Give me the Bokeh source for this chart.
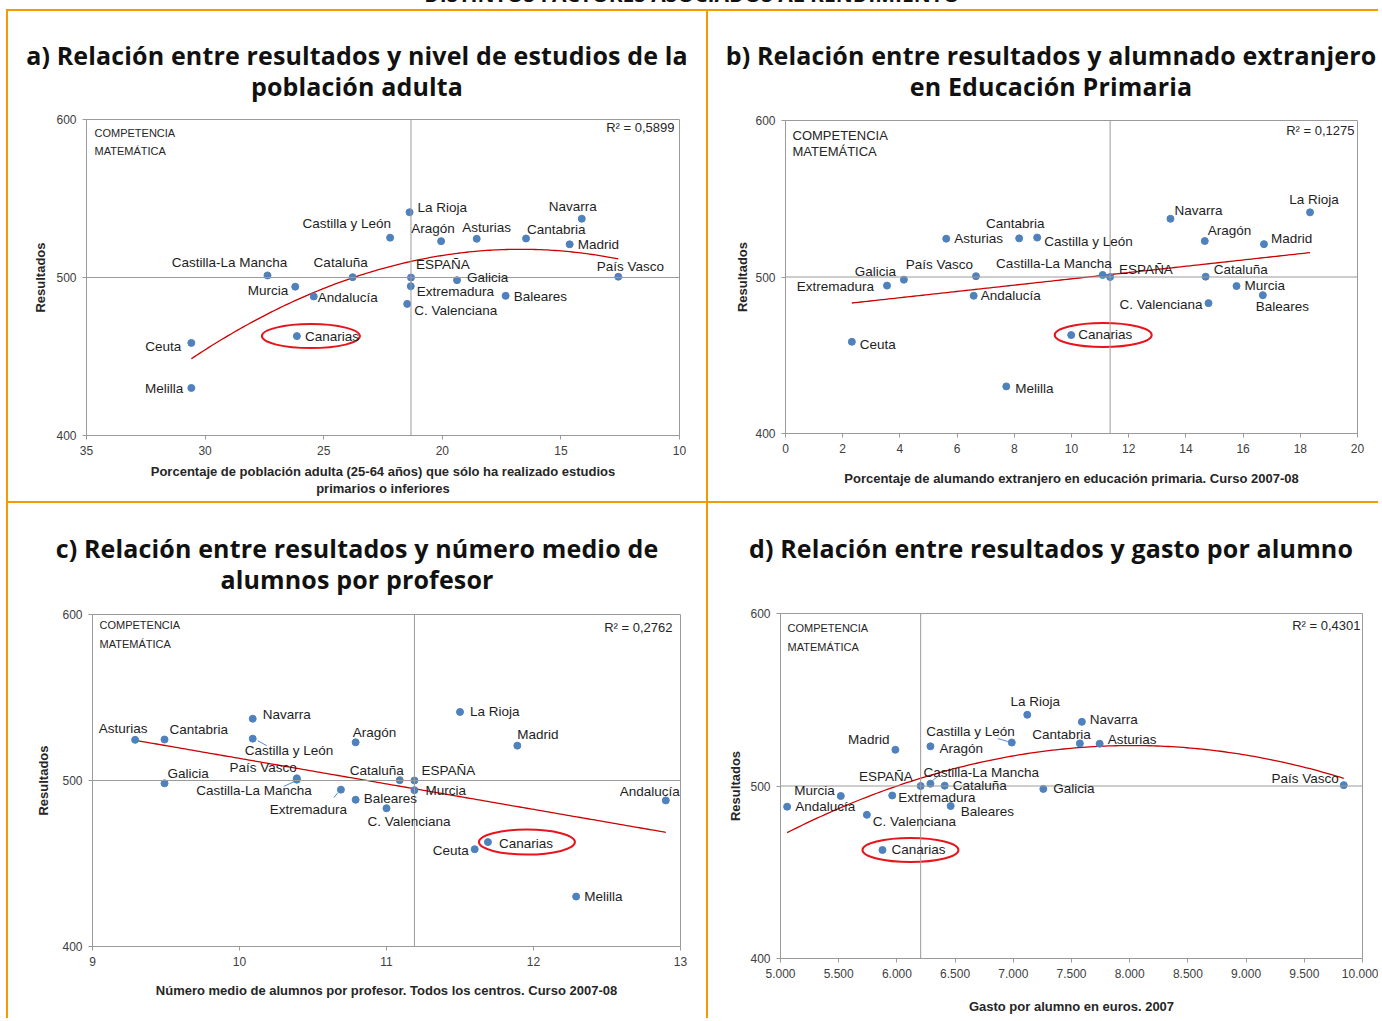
import numpy as np
from bokeh.plotting import figure
from bokeh.models import Range1d, FixedTicker, Span, Label, Div
from bokeh.layouts import row, column
from bokeh.embed import file_html
from bokeh.resources import INLINE

# ---------------- data ----------------
regions = ["Andalucía", "Aragón", "Asturias", "Baleares", "Canarias", "Cantabria",
           "Castilla y León", "Castilla-La Mancha", "Cataluña", "C. Valenciana",
           "Extremadura", "Galicia", "Madrid", "Murcia", "Navarra", "País Vasco",
           "La Rioja", "Ceuta", "Melilla", "ESPAÑA"]
# competencia matemática (same in every panel)
score = [488.0, 523.0, 524.5, 488.4, 462.9, 524.7, 525.2, 501.3, 500.2, 483.3,
         494.5, 498.3, 521.0, 494.2, 537.2, 500.5, 541.3, 458.6, 430.1, 500.0]
# a) % adult population with only primary studies
x_a = [25.42, 20.05, 18.55, 17.33, 26.13, 16.47, 22.2, 27.37, 23.78, 21.48,
       21.33, 19.38, 14.63, 26.2, 14.12, 12.58, 21.38, 30.58, 30.58, 21.32]
# b) % foreign pupils in primary education
x_b = [6.58, 14.66, 5.62, 16.69, 9.99, 8.17, 8.8, 11.09, 14.69, 14.79,
       3.55, 4.14, 16.73, 15.77, 13.46, 6.66, 18.34, 2.32, 7.72, 11.35]
# c) pupils per teacher
x_c = [12.9, 10.79, 9.29, 10.79, 11.69, 9.49, 10.09, 10.39, 11.09, 11.0,
       10.69, 9.49, 11.89, 11.19, 10.09, 10.39, 11.5, 11.6, 12.29, 11.19]
# d) spending per pupil (euros)
x_d = [5057, 6288, 7742, 6462, 5876, 7572, 6987, 6288, 6411, 5742,
       5960, 7258, 5987, 5518, 7589, 9839, 7120, None, None, 6204]

ticks_a = [35, 30, 25, 20, 15, 10]
tick_labels_a = ["35", "30", "25", "20", "15", "10"]
ticks_b = [0, 2, 4, 6, 8, 10, 12, 14, 16, 18, 20]
tick_labels_b = ["0", "2", "4", "6", "8", "10", "12", "14", "16", "18", "20"]
ticks_c = [9, 10, 11, 12, 13]
tick_labels_c = ["9", "10", "11", "12", "13"]
ticks_d = [5000, 5500, 6000, 6500, 7000, 7500, 8000, 8500, 9000, 9500, 10000]
tick_labels_d = ["5.000", "5.500", "6.000", "6.500", "7.000", "7.500", "8.000",
                 "8.500", "9.000", "9.500", "10.000"]
y_ticks = [400, 500, 600]
r2_texts = ["R² = 0,5899", "R² = 0,1275", "R² = 0,2762", "R² = 0,4301"]

main_title = "DISTINTOS FACTORES ASOCIADOS AL RENDIMIENTO"
titles = ["a) Relación entre resultados y nivel de estudios de la<br>población adulta",
          "b) Relación entre resultados y alumnado extranjero<br>en Educación Primaria",
          "c) Relación entre resultados y número medio de<br>alumnos por profesor",
          "d) Relación entre resultados y gasto por alumno"]
xlabels = ["Porcentaje de población adulta (25-64 años) que sólo ha realizado estudios\nprimarios o inferiores",
           "Porcentaje de alumando extranjero en educación primaria. Curso 2007-08",
           "Número medio de alumnos por profesor. Todos los centros. Curso 2007-08",
           "Gasto por alumno en euros. 2007"]

# ---------------- label placement (pixels, y down) ----------------
lab_a = [("left", 4, 1), ("center", -8, -13), ("center", 10, -11), ("left", 8, 1), ("left", 8, 0),
         ("left", 1, -9), ("right", 1, -14), ("center", -38, -13), ("center", -12, -15), ("left", 7, 7),
         ("left", 6, 5), ("left", 10, -3), ("left", 8, 0), ("right", -7, 4), ("center", -9, -12),
         ("center", 12, -10), ("left", 8, -5), ("right", -10, 4), ("right", -8, 1), ("left", 5, -13)]
lab_b = [("left", 7, 0), ("left", 3, -11), ("left", 8, 0), ("left", -7, 11), ("left", 7, -1),
         ("center", -4, -15), ("left", 7, 4), ("right", 9, -11), ("left", 8, -7), ("right", -6, 1),
         ("right", -13, 1), ("right", -8, -8), ("left", 7, -6), ("left", 8, -1), ("left", 4, -8),
         ("right", -3, -12), ("center", 4, -13), ("left", 8, 3), ("left", 9, 2), ("left", 9, -8)]
lab_c = [("right", 14, -9), ("left", -3, -10), ("center", -12, -11), ("left", 8, -1), ("left", 11, 1),
         ("left", 5, -10), ("left", -8, 12), ("right", 15, 12), ("right", 4, -10), ("left", -19, 13),
         ("right", 6, 20), ("left", 3, -10), ("left", 0, -11), ("left", 11, 0), ("left", 10, -4),
         ("right", 0, -12), ("left", 10, 0), ("right", -6, 1), ("left", 8, 0), ("left", 7, -10)]
lab_d = [("left", 8, 0), ("left", 9, 2), ("left", 8, -4), ("left", 10, 5), ("left", 9, 0),
         ("right", 11, -9), ("right", 3, -11), ("left", -7, -11), ("left", 8, 0), ("left", 6, 7),
         ("left", 6, 2), ("left", 10, 0), ("right", -6, -10), ("right", -6, -6), ("left", 8, -2),
         ("right", -5, -7), ("center", 8, -13), None, None, ("right", -8, -10)]
# leader lines: (region, x0, y0, x1, y1) in pixels from the dot (y down)
lead_c = [("Castilla y León", 5, 2, 14, 7), ("Castilla-La Mancha", -2, 3, -13, 8),
          ("Extremadura", -3, 3, -7, 8)]
lead_d = [("Castilla y León", -4, -1, -14, -4), ("Castilla-La Mancha", 2, -3, 8, -8)]

ORANGE = "#F59B00"
GREY = "#9A9A9A"
BLUE = "#4F81BD"
RED = "#CC0000"
LFONT = "Liberation Sans"


def make_panel(xs, xr, ticks, tlabels, w, h, mb, xlabel, xl_standoff, yl_standoff, r2,
               deg, labs, ell_dx, ell_w, comp_off, comp_size, r2_off, leads=()):
    fw = w - mb[0] - mb[1]
    fh = h - mb[2] - mb[3]
    kx = (xr[1] - xr[0]) / fw
    ky = 200.0 / fh
    p = figure(width=w, height=h, x_range=Range1d(xr[0], xr[1]), y_range=Range1d(400, 600),
               output_backend="svg", toolbar_location=None,
               min_border_left=mb[0], min_border_right=mb[1],
               min_border_top=mb[2], min_border_bottom=mb[3])
    p.grid.visible = False
    p.outline_line_color = GREY
    p.background_fill_color = "white"
    p.border_fill_color = "white"
    p.xaxis.ticker = FixedTicker(ticks=ticks)
    p.xaxis.major_label_overrides = {t: l for t, l in zip(ticks, tlabels)}
    p.yaxis.ticker = FixedTicker(ticks=y_ticks)
    p.axis.axis_line_color = GREY
    p.axis.major_tick_line_color = GREY
    p.axis.minor_tick_line_color = None
    p.axis.major_tick_out = 4
    p.axis.major_tick_in = 0
    p.axis.major_label_text_font = LFONT
    p.axis.major_label_text_font_size = "12px"
    p.axis.major_label_text_color = "#404040"
    p.axis.major_label_standoff = 6
    p.axis.axis_label_text_font = LFONT
    p.axis.axis_label_text_font_style = "bold"
    p.axis.axis_label_text_font_size = "13px"
    p.axis.axis_label_text_color = "#262626"
    p.xaxis.axis_label = xlabel
    p.xaxis.axis_label_standoff = xl_standoff
    p.xaxis.axis_label_text_line_height = 1.15
    p.yaxis.axis_label = "Resultados"
    p.yaxis.axis_label_standoff = yl_standoff

    esp = regions.index("ESPAÑA")
    p.add_layout(Span(location=xs[esp], dimension="height", line_color=GREY, line_width=1))
    p.add_layout(Span(location=score[esp], dimension="width", line_color=GREY, line_width=1))

    idx = [i for i in range(len(regions)) if xs[i] is not None]
    fit_idx = [i for i in idx if i != esp]
    fx = np.array([xs[i] for i in fit_idx], dtype=float)
    fy = np.array([score[i] for i in fit_idx], dtype=float)
    coef = np.polyfit(fx, fy, deg)
    xx = np.linspace(fx.min(), fx.max(), 150)
    p.line(xx, np.polyval(coef, xx), line_color=RED, line_width=1.3)

    # leader lines
    for name, a0, b0, a1, b1 in leads:
        i = regions.index(name)
        p.segment(x0=[xs[i] + a0 * kx], y0=[score[i] - b0 * ky],
                  x1=[xs[i] + a1 * kx], y1=[score[i] - b1 * ky],
                  line_color="#5A8AC6", line_width=1)

    p.scatter([xs[i] for i in idx], [score[i] for i in idx], size=7,
              fill_color=BLUE, line_color=BLUE)

    for i in idx:
        al, dx, dy = labs[i]
        p.add_layout(Label(x=xs[i], y=score[i], x_offset=dx, y_offset=-dy, text=regions[i],
                           text_align=al, text_baseline="middle", text_font=LFONT,
                           text_font_size="13.5px", text_color="#1E1E1E"))

    can = regions.index("Canarias")
    p.ellipse(x=[xs[can] + ell_dx * kx], y=[score[can]], width=ell_w[0], height=ell_w[1],
              width_units="screen", height_units="screen", fill_color=None,
              line_color="#E8141B", line_width=2)

    p.add_layout(Label(x=xr[0], y=600, x_offset=comp_off[0], y_offset=-comp_off[1],
                       text="COMPETENCIA", text_baseline="middle", text_font=LFONT,
                       text_font_size=comp_size, text_color="#262626"))
    p.add_layout(Label(x=xr[0], y=600, x_offset=comp_off[0], y_offset=-comp_off[2],
                       text="MATEMÁTICA", text_baseline="middle", text_font=LFONT,
                       text_font_size=comp_size, text_color="#262626"))
    p.add_layout(Label(x=xr[1], y=600, x_offset=-r2_off[0], y_offset=-r2_off[1],
                       text=r2, text_align="right", text_baseline="middle", text_font=LFONT,
                       text_font_size="13px", text_color="#262626"))
    return p


def title_div(html, w, h, pt, pl=0):
    return Div(text=(f'<div style="width:{w}px;text-align:center;font-family:\'Open Sans\';'
                     f'font-weight:700;font-size:25px;letter-spacing:0.15px;line-height:31px;color:#111;'
                     f'padding-top:{pt}px;padding-left:{pl}px;box-sizing:border-box;'
                     f'white-space:nowrap;">{html}</div>'),
               width=w, height=h, margin=0)


def bar(w, h):
    return Div(text="", width=w, height=h, margin=0, styles={"background-color": ORANGE})


def gap(w, h):
    return Div(text="", width=w, height=h, margin=0)


WA, WB = 698, 670
pA = make_panel(x_a, (35, 10), ticks_a, tick_labels_a, WA, 396, (78, 27, 14, 66),
                xlabels[0], 6, 5, r2_texts[0], 2, lab_a, 14, (98, 24), (8, 13, 31), "11px", (5, 8))
pB = make_panel(x_b, (0, 20), ticks_b, tick_labels_b, WB, 396, (77, 21, 15, 68),
                xlabels[1], 15, 2, r2_texts[1], 1, lab_b, 32, (97, 24), (7, 15, 31), "13px", (3, 10))
pC = make_panel(x_c, (9, 13), ticks_c, tick_labels_c, WA, 418, (84, 26, 14, 72),
                xlabels[2], 14, 8, r2_texts[2], 1, lab_c, 39, (96, 25), (7, 10, 29), "11px", (8, 13),
                lead_c)
pD = make_panel(x_d, (5000, 10000), ticks_d, tick_labels_d, WB, 418, (72, 16, 13, 60),
                xlabels[3], 18, 4, r2_texts[3], 2, lab_d, 28, (96, 24), (7, 14, 33), "11px", (2, 12),
                lead_d)

TOTAL = 2 + WA + 2 + WB
top_title = Div(text=(f'<div style="position:relative;top:-21px;width:{TOTAL}px;text-align:center;'
                      'font-family:\'Open Sans\';font-weight:700;font-size:21px;white-space:nowrap;'
                      f'color:#111;">{main_title}</div>'),
                width=TOTAL, height=9, margin=0, styles={"overflow": "visible"})

grid = column(
    top_title,
    bar(TOTAL, 2),
    row(bar(2, 490), column(title_div(titles[0], WA, 94, 29), pA),
        bar(2, 490), column(title_div(titles[1], WB, 94, 29, 16), pB)),
    bar(TOTAL, 2),
    row(bar(2, 515), column(title_div(titles[2], WA, 97, 30), pC),
        bar(2, 515), column(title_div(titles[3], WB, 97, 30, 16), pD)),
)
layout = row(gap(6, 1018), grid)

open("out.html", "w").write(file_html(layout, INLINE))
